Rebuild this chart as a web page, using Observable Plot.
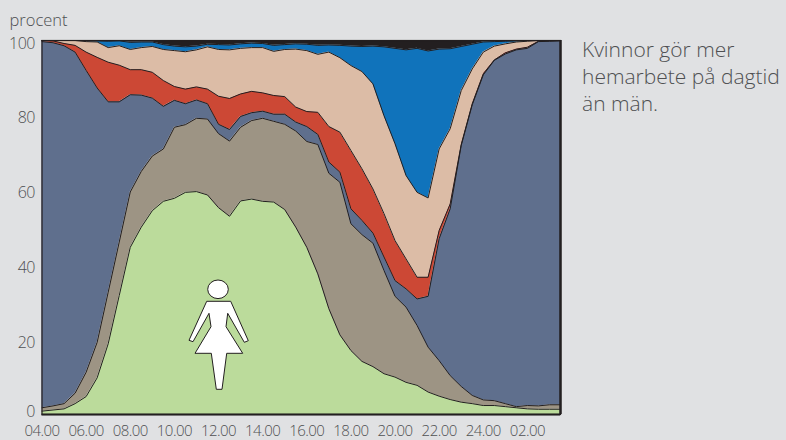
<!DOCTYPE html>
<html><head><meta charset="utf-8">
<script src="https://cdn.jsdelivr.net/npm/d3@7"></script>
<script src="https://cdn.jsdelivr.net/npm/@observablehq/plot@0.6"></script>
<style>html,body{margin:0;padding:0;background:#e0e1e3;overflow:hidden}svg{display:block}
g[aria-label="x-axis tick label"] text{letter-spacing:-0.55px}
g[aria-label="y-axis tick label"] text{letter-spacing:-0.5px}
</style>
</head><body><div id="chart"></div>
<script>
const hours = d3.range(4, 28, 0.5);
const greenTop = [0.9,1.2,1.5,2.9,4.8,9.8,18.9,31.8,44.7,50.1,54.5,57.0,57.8,59.4,59.6,58.7,55.3,53.0,57.1,57.6,57.0,56.8,54.8,50.1,44.7,37.6,28.3,21.3,17.1,14.2,12.8,10.9,10.0,8.6,7.8,6.0,4.9,4.0,3.3,2.9,2.4,2.4,2.1,1.8,1.5,1.4,1.4,1.4];
const grayTop = [1.8,2.3,2.9,5.7,11.3,19.3,32.7,46.1,59.5,65.0,69.1,71.0,76.8,77.5,79.2,79.0,75.1,73.1,76.8,78.6,79.2,78.4,77.6,75.8,73.0,72.2,64.5,62.1,51.0,48.1,45.8,38.5,31.6,28.7,23.8,18.0,14.4,10.4,7.5,5.1,3.9,3.7,2.9,2.1,2.4,2.3,2.6,2.6];
const slateTop = [99.7,99.4,98.6,96.9,92.0,87.3,83.6,83.6,85.5,85.4,84.6,82.4,84.0,83.1,84.1,83.1,77.6,76.2,79.7,80.7,81.1,80.3,80.3,78.2,77.0,74.9,67.5,64.8,55.0,51.9,48.5,42.1,35.8,33.6,30.9,31.6,47.0,55.0,71.9,82.8,90.8,94.7,96.4,97.5,97.9,99.7,99.8,99.9];
const redTop = [100,99.9,99.2,98.7,96.9,95.5,94.2,93.4,92.2,92.2,91.5,89.3,87.7,87.0,87.6,87.0,85.1,84.5,85.7,86.4,86.0,85.3,85.0,82.2,81.0,80.8,77.0,75.5,70.6,65.7,60.3,53.7,46.5,41.6,36.7,36.7,49.2,56.3,72.2,83.1,91.1,94.8,96.7,97.7,98.2,99.8,99.9,100];
const tanTop = [100,100,100,100,99.7,99.6,98.1,98.6,97.6,98.1,98.4,97.6,97.3,97.0,97.5,98.3,97.6,97.5,97.9,98.1,98.1,97.1,97.6,97.7,97.3,96.3,96.9,95.4,93.3,91.7,88.4,79.9,72.4,63.9,59.4,57.9,71.0,76.4,86.6,92.4,96.9,98.5,99.1,99.6,99.8,100,100,100];
const blueTop = [100,100,100,100,100,99.9,99.8,99.9,99.5,99.6,99.6,98.9,98.5,98.3,98.5,99.0,98.9,98.8,99.1,99.3,99.2,98.7,98.9,99.1,99.0,98.7,98.8,98.7,98.5,98.4,98.5,98.3,97.9,97.5,97.9,97.2,97.7,97.8,98.4,99.0,99.6,99.7,99.8,99.9,100,100,100,100];
const blackTop = hours.map(() => 100);
const zero = hours.map(() => 0);

const layers = [
  {top: greenTop, low: zero, fill: "#bbdb9b"},
  {top: grayTop, low: greenTop, fill: "#9d9484"},
  {top: slateTop, low: grayTop, fill: "#5f6f8d"},
  {top: redTop, low: slateTop, fill: "#cc4835"},
  {top: tanTop, low: redTop, fill: "#dcbca6"},
  {top: blueTop, low: tanTop, fill: "#1073bb"},
  {top: blackTop, low: blueTop, fill: "#231f20"}
];
const xTicks = [4,6,8,10,12,14,16,18,20,22,24,26];
const xTickLabels = ["04.00","06.00","08.00","10.00","12.00","14.00","16.00","18.00","20.00","22.00","24.00","02.00"];
const yTicks = [20,40,60,80,100];
const ink = "#231f20", textColor = "#4f5052";

// Pictogram of a woman, relative to its anchor (drawn as a decoration)
const womanBody = "M-11.3,-38.7H12.7L30.3,0.7L26.3,2.3L9.7,-26.7L8,-13.3L24.7,13.3H8.7L4,49.3H-1.7L-6.7,13.3H-23L-7,-13.3L-9,-26.7L-25,1.7L-29,0.3Z";
const woman = (index, {x, y}) => {
  const g = d3.create("svg:g").attr("transform", `translate(${x(12)},${y(20) + 0.8})`)
    .attr("fill", "white").attr("stroke", ink).attr("stroke-width", 1);
  g.append("ellipse").attr("cx", 0).attr("cy", -50.7).attr("rx", 10.3).attr("ry", 9.3);
  g.append("path").attr("d", womanBody).attr("stroke-linejoin", "miter");
  return g.node();
};

const plot = Plot.plot({
  width: 786, height: 440,
  marginLeft: 41.5, marginRight: 226, marginTop: 40, marginBottom: 26,
  style: {background: "#e0e1e3", fontFamily: "'Open Sans', sans-serif", overflow: "visible"},
  x: {domain: [4, 27.5]},
  y: {domain: [0, 100]},
  marks: [
    ...layers.map(l => Plot.areaY(hours, {x: d => d, y1: (d, i) => l.low[i], y2: (d, i) => l.top[i], fill: l.fill})),
    ...layers.slice(0, 6).map(l => Plot.line(hours, {x: d => d, y: (d, i) => l.top[i], stroke: ink, strokeWidth: 1, strokeLinejoin: "miter"})),
    Plot.frame({stroke: ink, strokeWidth: 1.2}),
    Plot.ruleY([0], {stroke: ink, strokeWidth: 2}),
    Plot.ruleX([27.5], {stroke: ink, strokeWidth: 2.5}),
    woman,
    Plot.axisX({ticks: xTicks, tickFormat: (d, i) => xTickLabels[i], tickSize: 0, tickPadding: 10.5, label: null, fontSize: 15, fontWeight: 300, color: textColor}),
    Plot.axisY({ticks: yTicks, tickSize: 0, tickPadding: 7, label: null, fontSize: 16, fontWeight: 300, dy: 3, color: textColor, tickFormat: d => d}),
    Plot.axisY({ticks: [0], tickSize: 0, tickPadding: 7, label: null, fontSize: 16, fontWeight: 300, dy: -3, color: textColor, tickFormat: d => d}),
    Plot.text(["procent"], {frameAnchor: "top-left", textAnchor: "start", lineAnchor: "middle", dx: -32.5, dy: -20, fontSize: 16.5, fontWeight: 300, fill: textColor}),
    Plot.text(["Kvinnor gör mer\nhemarbete på dagtid\nän män."], {frameAnchor: "top-left", textAnchor: "start", lineAnchor: "top", dx: 540, dy: -3, fontSize: 21, fontWeight: 300, lineHeight: 1.3, fill: textColor})
  ]
});
document.getElementById("chart").append(plot);
</script></body></html>
